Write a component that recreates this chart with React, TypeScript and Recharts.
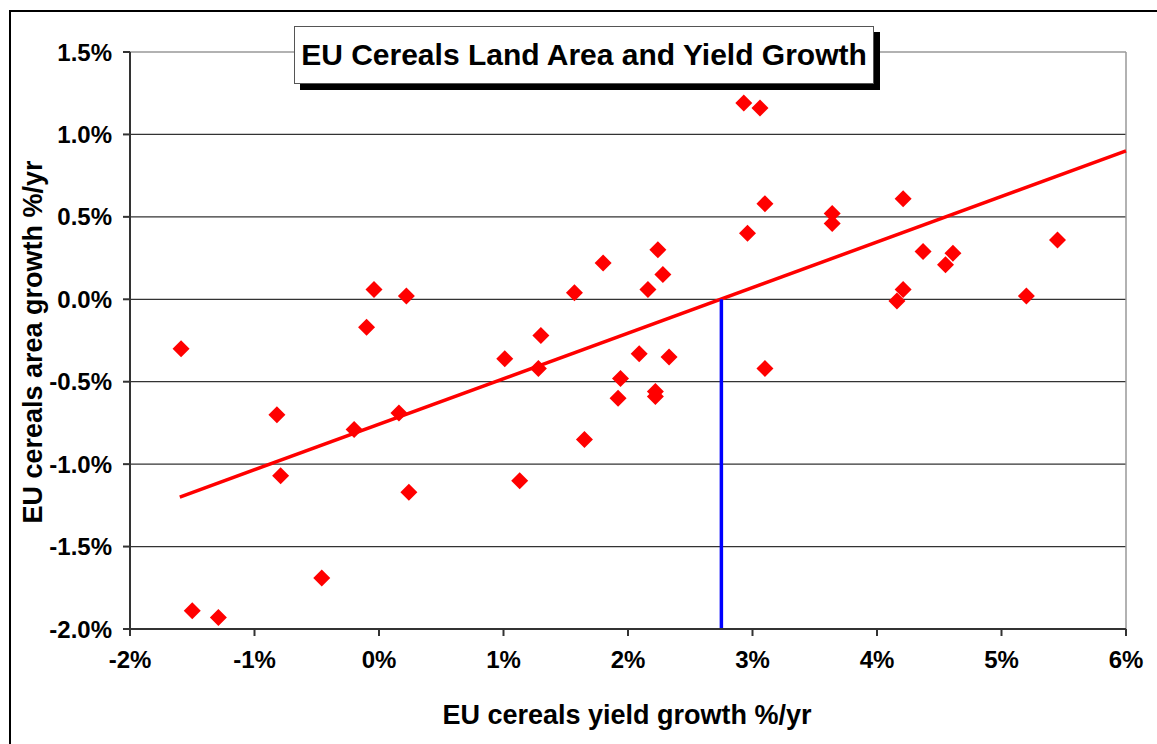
import { ScatterChart, Scatter, XAxis, YAxis, ReferenceLine } from 'recharts';

// yield growth (%/yr) vs land area growth (%/yr)
const yieldGrowth = [
  -1.59, -1.5, -1.29, -0.82, -0.79, -0.46, -0.2, -0.1, -0.04, 0.16, 0.22, 0.24,
  1.01, 1.13, 1.3, 1.28, 1.57, 1.65, 1.8, 1.92, 1.94, 2.09, 2.16, 2.22, 2.22,
  2.24, 2.28, 2.33, 2.93, 2.96, 3.06, 3.1, 3.1, 3.64, 3.64, 4.16, 4.21, 4.21,
  4.37, 4.55, 4.61, 5.2, 5.45,
];
const areaGrowth = [
  -0.3, -1.89, -1.93, -0.7, -1.07, -1.69, -0.79, -0.17, 0.06, -0.69, 0.02, -1.17,
  -0.36, -1.1, -0.22, -0.42, 0.04, -0.85, 0.22, -0.6, -0.48, -0.33, 0.06, -0.56, -0.59,
  0.3, 0.15, -0.35, 1.19, 0.4, 1.16, 0.58, -0.42, 0.52, 0.46, -0.01, 0.06, 0.61,
  0.29, 0.21, 0.28, 0.02, 0.36,
];

const trendX = [-1.6, 6];
const trendY = [-1.2, 0.9];
const breakEvenX = 2.75;

const xTicks = [-2, -1, 0, 1, 2, 3, 4, 5, 6];
const yTicks = [-2, -1.5, -1, -0.5, 0, 0.5, 1, 1.5];

const points = yieldGrowth.map((x, i) => ({ x, y: areaGrowth[i] }));

const font = '"Liberation Sans", Arial, sans-serif';

const Diamond = (props: any) => {
  const { cx, cy } = props;
  const r = 8.5;
  return <path d={`M${cx},${cy - r}L${cx + r},${cy}L${cx},${cy + r}L${cx - r},${cy}Z`} fill="#FF0000" />;
};

export default function App() {
  const tick = { fill: '#000', fontSize: 24, fontWeight: 700, fontFamily: font };
  return (
    <div style={{ position: 'absolute', left: 0, top: 0, width: 1157, height: 744, background: '#fff', fontFamily: font }}>
      <div style={{ position: 'absolute', left: 9, top: 10, width: 1148, height: 734, borderLeft: '2px solid #000', borderTop: '2px solid #000', boxSizing: 'border-box' }} />
      <ScatterChart width={1157} height={744} margin={{ top: 52, right: 31, bottom: 55, left: 30 }}>
        {yTicks.slice(1, -1).map((v) => (
          <ReferenceLine key={v} y={v} stroke="#333" strokeWidth={1.2} />
        ))}
        <ReferenceLine y={1.5} stroke="#999" strokeWidth={1.5} />
        <ReferenceLine x={6} stroke="#999" strokeWidth={1.5} />
        <XAxis
          type="number"
          dataKey="x"
          domain={[-2, 6]}
          ticks={xTicks}
          tickFormatter={(v) => `${v}%`}
          stroke="#333"
          strokeWidth={2}
          tickSize={7}
          tickMargin={15}
          height={60}
          tick={tick}
          interval={0}
        />
        <YAxis
          type="number"
          dataKey="y"
          domain={[-2, 1.5]}
          ticks={yTicks}
          tickFormatter={(v) => `${Number(v).toFixed(1)}%`}
          stroke="#333"
          strokeWidth={2}
          tickSize={7}
          tickMargin={11}
          width={100}
          tick={tick}
          interval={0}
        />
        <ReferenceLine
          segment={[{ x: trendX[0], y: trendY[0] }, { x: trendX[1], y: trendY[1] }]}
          stroke="#FF0000"
          strokeWidth={3.5}
        />
        <ReferenceLine
          segment={[{ x: breakEvenX, y: 0 }, { x: breakEvenX, y: -2 }]}
          stroke="#0000FF"
          strokeWidth={3.5}
        />
        <Scatter data={points} shape={Diamond} isAnimationActive={false} />
      </ScatterChart>
      <div
        style={{
          position: 'absolute', left: 294, top: 26, width: 580, height: 58, boxSizing: 'border-box',
          border: '1px solid #555', background: '#fff', boxShadow: '6px 6px 0 #000',
          display: 'flex', alignItems: 'center', justifyContent: 'center',
          fontSize: 30, fontWeight: 700, color: '#000', whiteSpace: 'nowrap',
        }}
      >
        EU Cereals Land Area and Yield Growth
      </div>
      <div style={{ position: 'absolute', left: 627, top: 715, transform: 'translate(-50%, -50%)', fontSize: 27, fontWeight: 700, whiteSpace: 'nowrap' }}>
        EU cereals yield growth %/yr
      </div>
      <div style={{ position: 'absolute', left: 33, top: 342, transform: 'translate(-50%, -50%) rotate(-90deg)', fontSize: 27, fontWeight: 700, whiteSpace: 'nowrap' }}>
        EU cereals area growth %/yr
      </div>
    </div>
  );
}
